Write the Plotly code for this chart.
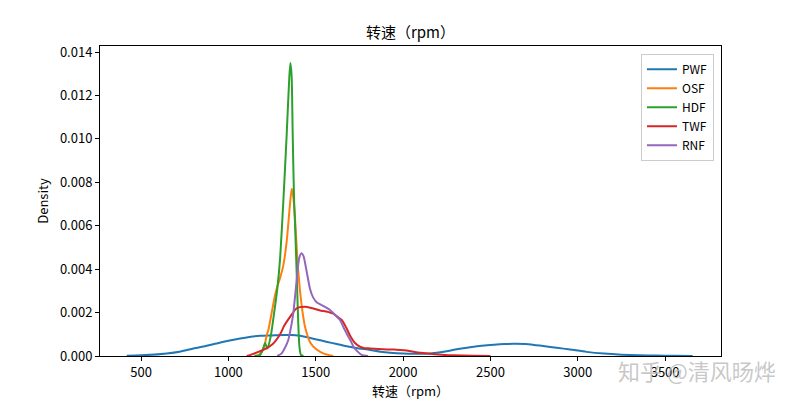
import plotly.graph_objects as go

# ---- data (rpm, density) ----
pwf_x = [418, 500, 647, 720, 800, 870, 933, 1000, 1067, 1120, 1181, 1250, 1315, 1360, 1410, 1460,
         1505, 1560, 1620, 1677, 1740, 1811, 1870, 1925, 2000, 2097, 2150, 2192, 2250, 2300, 2383,
         2450, 2520, 2580, 2631, 2700, 2760, 2803, 2880, 2956, 3050, 3150, 3250, 3350, 3450, 3550, 3658]
pwf_y = [0.00001, 0.00003, 0.00012, 0.0002, 0.00035, 0.00046, 0.00058, 0.0007, 0.00081, 0.00088,
         0.00093, 0.00095, 0.00097, 0.00097, 0.00093, 0.00085, 0.00076, 0.00066, 0.00055, 0.00045,
         0.00036, 0.00028, 0.0002, 0.00015, 0.00011, 0.0001, 0.00011, 0.00015, 0.00022, 0.0003,
         0.0004, 0.00047, 0.00052, 0.00055, 0.00056, 0.00055, 0.0005, 0.00046, 0.00038, 0.0003,
         0.00019, 0.00011, 0.00006, 0.00003, 0.00002, 0.00001, 0.0]

osf_x = [1150, 1175, 1191, 1205, 1219, 1229, 1248, 1267, 1280, 1296, 1315, 1334, 1343, 1355, 1363,
         1372, 1381, 1391, 1400, 1420, 1440, 1470, 1505, 1550, 1600]
osf_y = [0.0, 0.00005, 0.0002, 0.0004, 0.00095, 0.0012, 0.002, 0.0028, 0.0032, 0.0036, 0.0042,
         0.0053, 0.0061, 0.0072, 0.0077, 0.0073, 0.0064, 0.005, 0.0039, 0.0023, 0.0013, 0.0006,
         0.0003, 0.0001, 0.0]

hdf_x = [1150, 1180, 1195, 1210, 1223, 1242, 1257, 1280, 1296, 1315, 1334, 1349, 1355, 1362, 1368,
         1376, 1381, 1391, 1400, 1407, 1415, 1430]
hdf_y = [0.0, 0.00003, 0.00025, 0.0006, 0.00035, 0.0009, 0.0017, 0.0031, 0.0045, 0.0072, 0.01025,
         0.0129, 0.0135, 0.0129, 0.01025, 0.0072, 0.0062, 0.0038, 0.0015, 0.0004, 0.00005, 0.0]

twf_x = [1105, 1143, 1200, 1257, 1296, 1320, 1353, 1391, 1439, 1480, 1525, 1560, 1601, 1625, 1649,
         1675, 1696, 1725, 1753, 1780, 1811, 1860, 1906, 1950, 1983, 2020, 2059, 2100, 2154, 2220,
         2288, 2400, 2500]
twf_y = [0.0, 0.0001, 0.00028, 0.00058, 0.001, 0.0014, 0.0018, 0.0022, 0.00227, 0.0022, 0.0021,
         0.00205, 0.00195, 0.0018, 0.00166, 0.0013, 0.00095, 0.0006, 0.00043, 0.00036, 0.00035,
         0.00032, 0.0003, 0.0003, 0.00028, 0.00025, 0.0002, 0.00015, 0.0001, 0.00006, 0.00003,
         0.00001, 0.0]

rnf_x = [1280, 1305, 1325, 1343, 1360, 1372, 1391, 1405, 1418, 1430, 1448, 1467, 1485, 1505, 1525,
         1545, 1563, 1582, 1610, 1639, 1660, 1677, 1700, 1716, 1740, 1763, 1800]
rnf_y = [0.0, 0.00012, 0.0004, 0.00074, 0.0014, 0.002, 0.0035, 0.0045, 0.00473, 0.0046, 0.0039,
         0.0031, 0.0027, 0.00248, 0.00238, 0.0023, 0.00222, 0.00212, 0.0019, 0.00166, 0.0013,
         0.00104, 0.0007, 0.00043, 0.0002, 0.00005, 0.0]

series_names = ["PWF", "OSF", "HDF", "TWF", "RNF"]
series_x = [pwf_x, osf_x, hdf_x, twf_x, rnf_x]
series_y = [pwf_y, osf_y, hdf_y, twf_y, rnf_y]
colors = ["#1f77b4", "#ff7f0e", "#2ca02c", "#d62728", "#9467bd"]

x_ticks = [500, 1000, 1500, 2000, 2500, 3000, 3500]
y_ticks = [0.0, 0.002, 0.004, 0.006, 0.008, 0.010, 0.012, 0.014]

title_text = "转速（rpm）"
x_label = "转速（rpm）"
y_label = "Density"
watermark = "知乎 @清风旸烨"

FONT = "Noto Sans CJK SC, sans-serif"

fig = go.Figure()
for name, xs, ys, c in zip(series_names, series_x, series_y, colors):
    fig.add_trace(go.Scatter(x=xs, y=ys, name=name, mode="lines",
                             line=dict(color=c, width=2, shape="spline", smoothing=0.6)))

fig.update_layout(
    width=800, height=400,
    margin=dict(l=100, r=79, t=46, b=44, autoexpand=False),
    paper_bgcolor="white", plot_bgcolor="white",
    font=dict(family=FONT, size=13, color="black"),
    title=dict(text=title_text, x=0.513, xanchor="center", y=0.918, yanchor="middle",
               font=dict(size=15)),
    legend=dict(x=0.9887, y=0.975, xanchor="right", yanchor="top",
                bordercolor="#cccccc", borderwidth=1, bgcolor="rgba(255,255,255,0.8)",
                font=dict(size=12), itemwidth=30, tracegroupgap=0),
    showlegend=True,
)
fig.update_xaxes(range=[265, 3820], tickvals=x_ticks, ticks="outside", ticklen=4,
                 tickcolor="black", showline=True, linecolor="black", linewidth=1, mirror=True,
                 showgrid=False, zeroline=False, automargin=False,
                 title=dict(text=x_label, standoff=2, font=dict(size=13)))
fig.update_yaxes(range=[0, 0.01428], tickvals=y_ticks, tickformat=".3f", ticks="outside",
                 ticklen=4, tickcolor="black", showline=True, linecolor="black", linewidth=1,
                 mirror=True, showgrid=False, zeroline=False, automargin=False,
                 title=dict(text=y_label, standoff=8, font=dict(size=13)))

fig.add_annotation(text=watermark, xref="paper", yref="paper", x=0.961, y=-0.045,
                   xanchor="center", yanchor="middle", showarrow=False,
                   font=dict(size=22, color="rgba(190,190,190,0.85)", family=FONT))

fig.write_html("out.html", config={"displayModeBar": False},
               post_script="document.body.style.margin='0';document.body.style.padding='0';")
